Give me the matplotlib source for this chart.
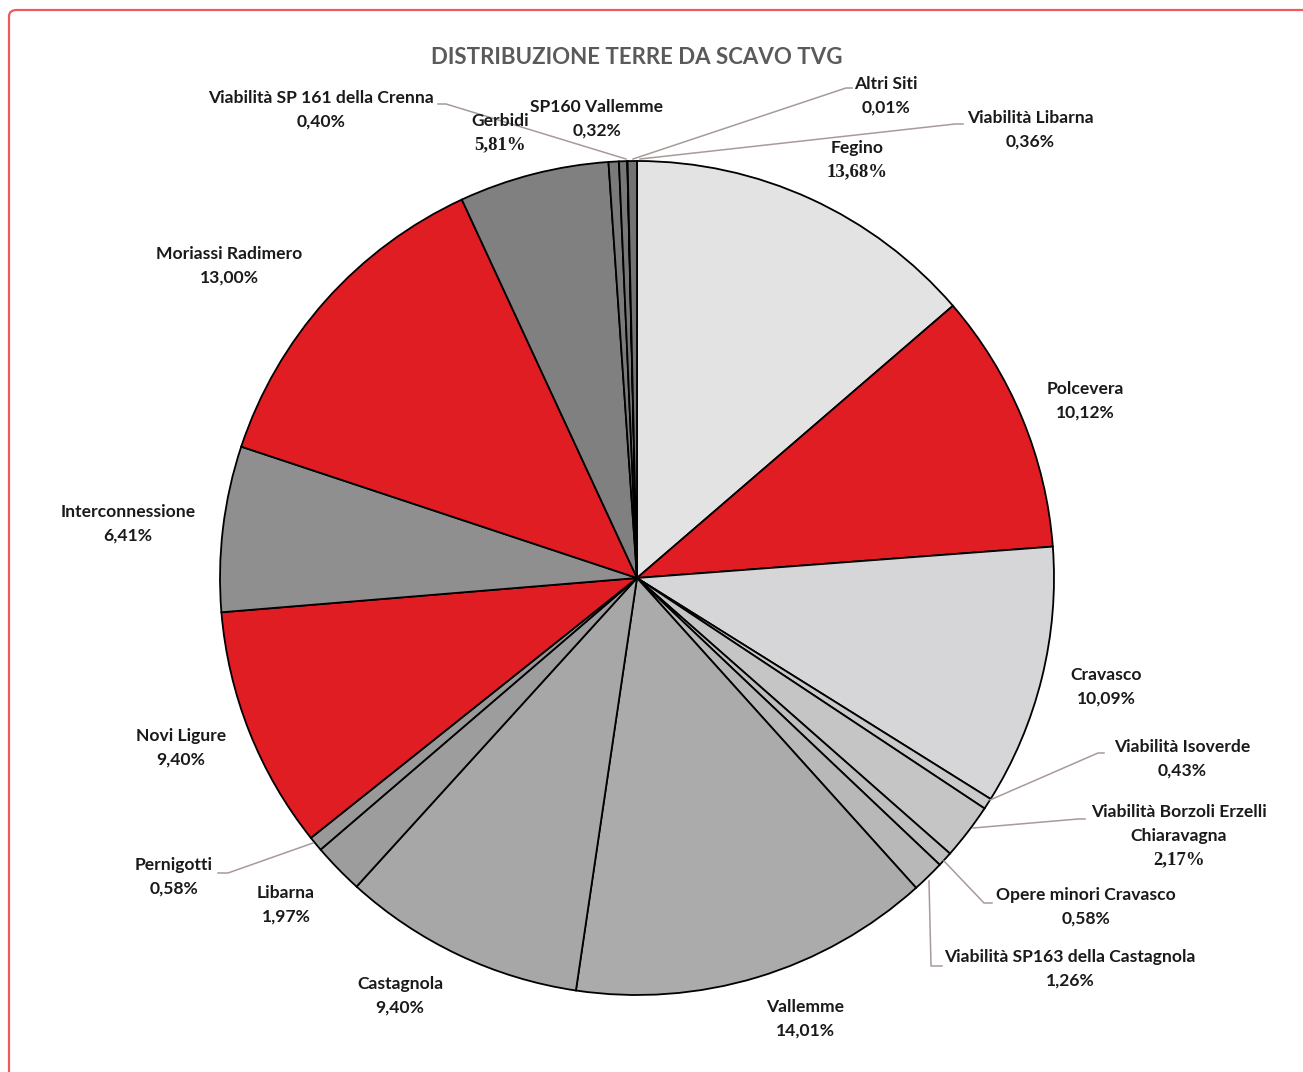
import matplotlib
matplotlib.use("Agg")
import matplotlib.pyplot as plt
from matplotlib.patches import FancyBboxPatch
from matplotlib.lines import Line2D

W, H = 1303, 1072

title = "DISTRIBUZIONE TERRE DA SCAVO TVG"
categories = ["Fegino", "Polcevera", "Cravasco", "Viabilità Isoverde",
              "Viabilità Borzoli Erzelli\nChiaravagna", "Opere minori Cravasco",
              "Viabilità SP163 della Castagnola", "Vallemme", "Castagnola",
              "Libarna", "Pernigotti", "Novi Ligure", "Interconnessione",
              "Moriassi Radimero", "Gerbidi", "Viabilità SP 161 della Crenna",
              "SP160 Vallemme", "Altri Siti", "Viabilità Libarna"]
values = [13.68, 10.12, 10.09, 0.43, 2.17, 0.58, 1.26, 14.01, 9.40, 1.97,
          0.58, 9.40, 6.41, 13.00, 5.81, 0.40, 0.32, 0.01, 0.36]
pct_labels = ["13,68%", "10,12%", "10,09%", "0,43%", "2,17%", "0,58%", "1,26%",
              "14,01%", "9,40%", "1,97%", "0,58%", "9,40%", "6,41%", "13,00%",
              "5,81%", "0,40%", "0,32%", "0,01%", "0,36%"]

colors = ["#e3e3e3", "#e11d24", "#d6d6d8", "#cacaca", "#c5c5c5", "#bebebe",
          "#b8b8b8", "#ababab", "#a7a7a7", "#9d9d9d", "#999999", "#e11d24",
          "#8f8f8f", "#e11d24", "#808080", "#7a7a7a", "#777777", "#747474",
          "#737373"]

# label placement (pixel centres of first line) and serif flags
label_pos = [(857, 148), (1085, 389), (1106, 675), (1182, 747), (1179, 812),
             (1086, 895), (1070, 957), (805, 1007), (400, 984), (286, 893),
             (174, 865), (181, 736), (128, 512), (229, 254), (500, 121),
             (321, 98), (597, 107), (886, 84), (1030, 118)]
serif_pct = {"13,68%", "5,81%", "2,17%"}

leaders = [
    [(438, 104), (446, 104), (626, 159)],      # Crenna
    [(852, 88), (846, 88), (633, 159)],        # Altri Siti
    [(963, 124), (955, 124), (640, 159)],      # Viabilita Libarna
    [(1104, 753), (1098, 753), (990, 800)],    # Isoverde
    [(1085, 819), (1078, 819), (973, 828)],    # Borzoli
    [(992, 903), (984, 903), (944, 861)],      # Opere minori
    [(942, 966), (931, 966), (929, 881)],      # SP163
    [(218, 873), (228, 873), (313, 843)],      # Pernigotti
]

fig = plt.figure(figsize=(W / 100, H / 100), dpi=100)
fig.patch.set_facecolor("white")

# red frame
frame = FancyBboxPatch((9 / W, -0.05), 1.5, (H - 10) / H + 0.05,
                       boxstyle="round,pad=0,rounding_size=0.006",
                       transform=fig.transFigure, facecolor="none",
                       edgecolor="#f05a5e", linewidth=1.6, clip_on=False)
fig.patches.append(frame)

cx, cy, r = 637, 578, 417
ax = fig.add_axes([(cx - r) / W, (H - cy - r) / H, 2 * r / W, 2 * r / H])
ax.pie(values, colors=colors, startangle=90, counterclock=False, radius=1,
       wedgeprops=dict(edgecolor="black", linewidth=1.3))
ax.set_xlim(-1.0, 1.0)
ax.set_ylim(-1.0, 1.0)
ax.set_aspect("equal")
ax.axis("off")

fig.text(637 / W, 1 - 58 / H, title, ha="center", va="center",
         fontsize=16, fontweight="bold", color="#5a5a5a", family="Lato")

for name, pct, (x, y) in zip(categories, pct_labels, label_pos):
    lines = name.split("\n")
    yy = y
    for ln in lines:
        fig.text(x / W, 1 - yy / H, ln, ha="center", va="center",
                 fontsize=12.6, fontweight="bold", color="#1a1a1a", family="Lato")
        yy += 24
    fam = "Liberation Serif" if pct in serif_pct else "Lato"
    fs = 13.5 if pct in serif_pct else 12.6
    fig.text(x / W, 1 - yy / H, pct, ha="center", va="center",
             fontsize=fs, fontweight="bold", color="#1a1a1a", family=fam)

for pts in leaders:
    xs = [p[0] / W for p in pts]
    ys = [1 - p[1] / H for p in pts]
    fig.lines.append(Line2D(xs, ys, transform=fig.transFigure,
                            color="#a89a98", linewidth=1.1))

fig.savefig("out.png", dpi=100)
